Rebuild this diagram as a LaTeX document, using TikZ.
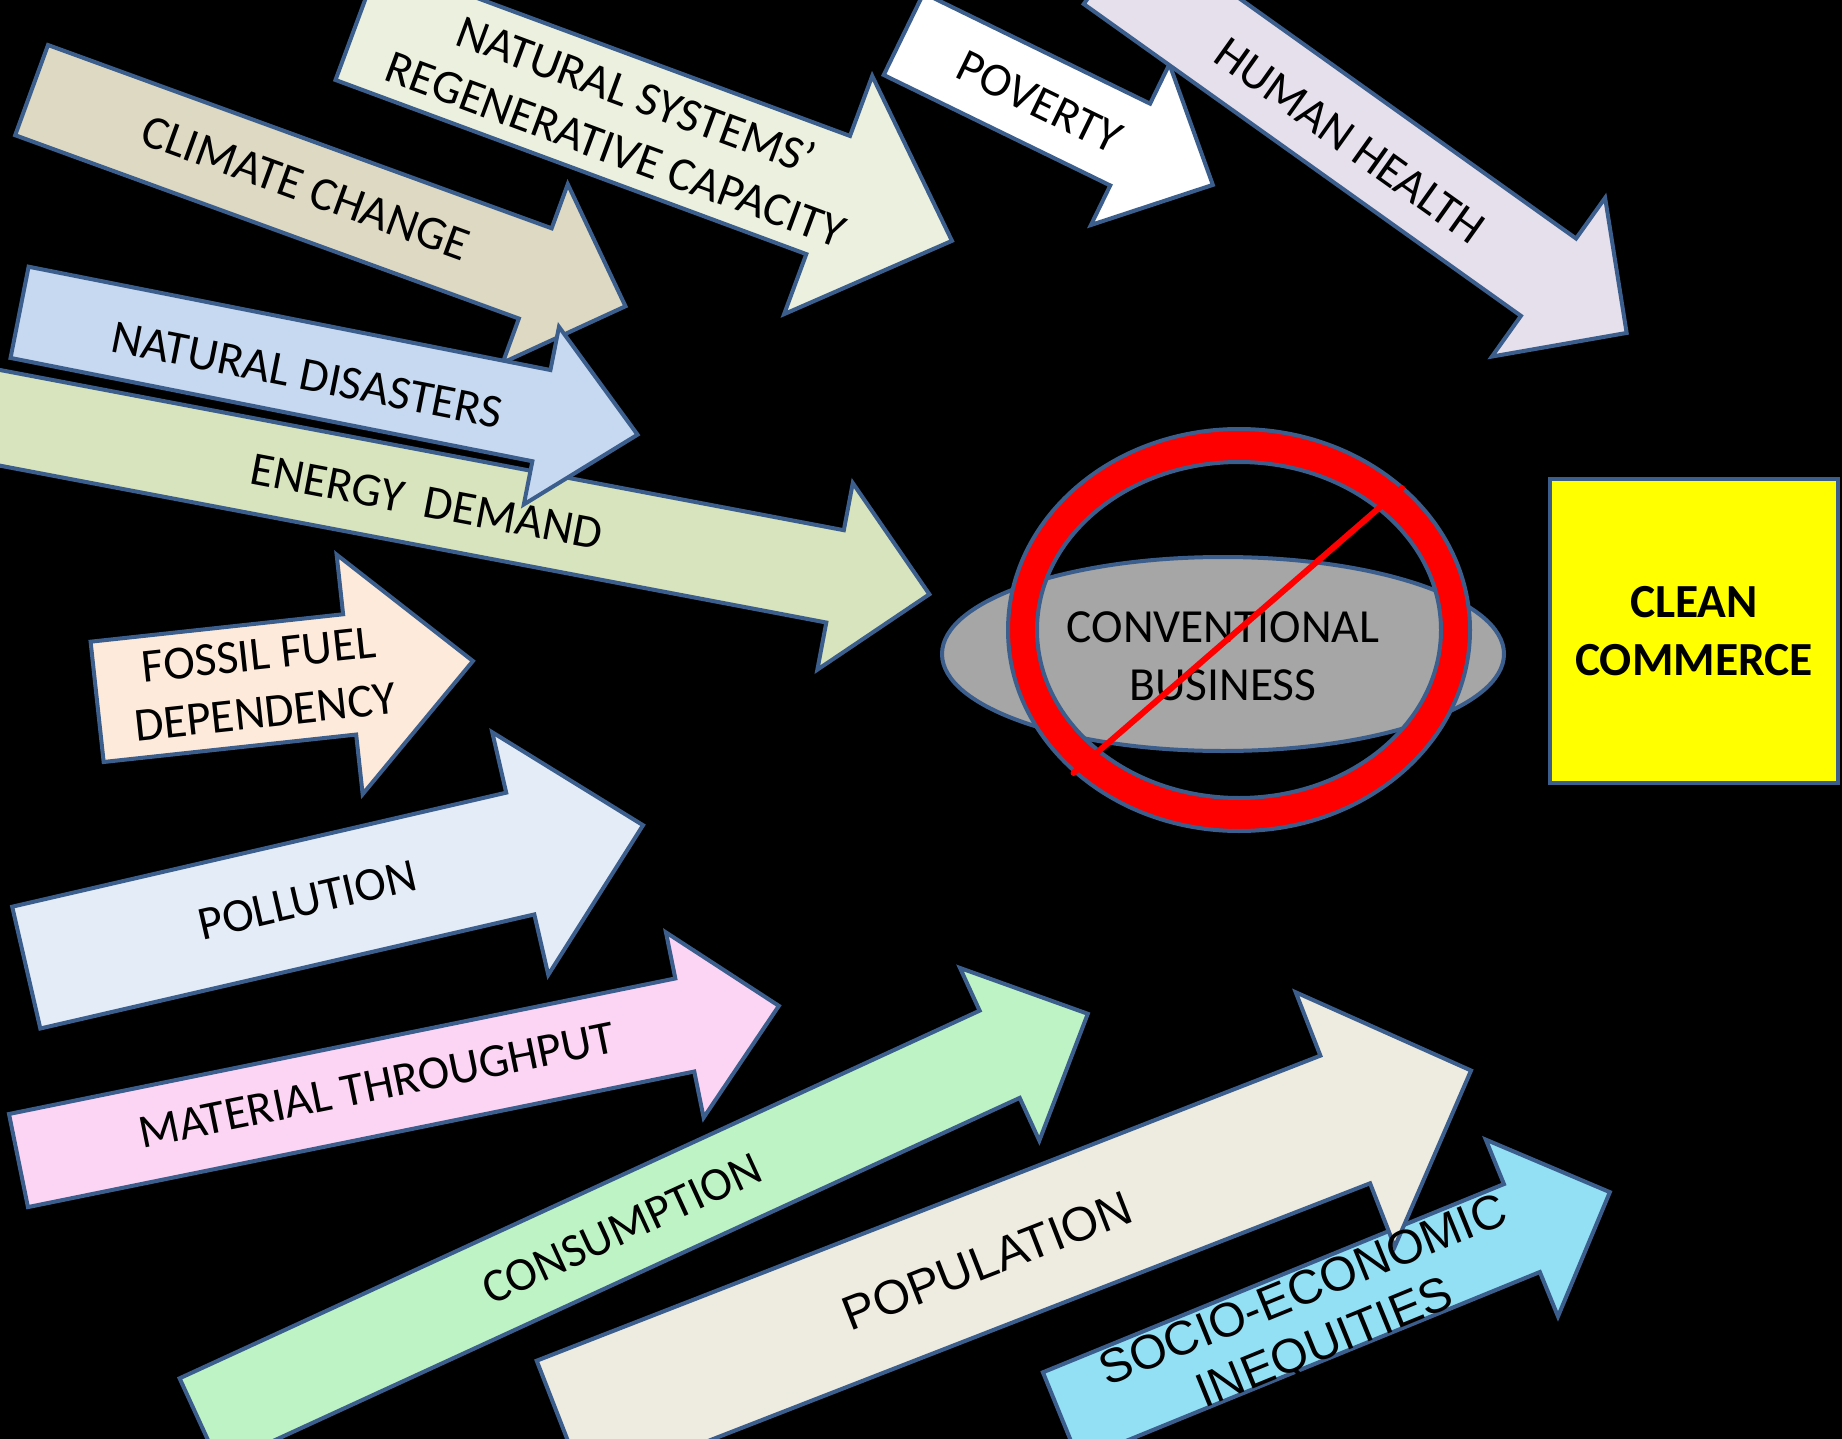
\documentclass[tikz,border=0pt]{standalone}
\usepackage{fontspec}
\setmainfont{Carlito}
\newfontfamily\arialfont{Liberation Sans}
\definecolor{outl}{HTML}{3B5E8C}
\definecolor{cclimate}{HTML}{DDD9C3}
\definecolor{cnatsys}{HTML}{EBF1DE}
\definecolor{cpoverty}{HTML}{FFFFFF}
\definecolor{chealth}{HTML}{E5E0EC}
\definecolor{cdisaster}{HTML}{C6D9F1}
\definecolor{cenergy}{HTML}{D7E4BD}
\definecolor{cfossil}{HTML}{FDEADA}
\definecolor{cpollution}{HTML}{E4ECF7}
\definecolor{cmaterial}{HTML}{FCD5F5}
\definecolor{cconsum}{HTML}{BEF3C5}
\definecolor{cpopul}{HTML}{EEECE1}
\definecolor{csocio}{HTML}{93E0F5}
\definecolor{cgrey}{HTML}{A6A6A6}
\definecolor{cred}{HTML}{FF0000}
\definecolor{cyellow}{HTML}{FFFF00}
\tikzset{
  arrowshape/.style={draw=outl, line width=4pt, line join=miter},
  lbl/.style={text=black, font=\fontsize{47.5}{58}\selectfont, align=center, inner sep=0pt, transform shape},
  albl/.style={text=black, font=\arialfont\fontsize{48}{57}\selectfont, align=center, inner sep=0pt, transform shape},
  pclimate/.style={shift={(48,45)}, rotate=-20},
  pnatsys/.style={shift={(379.2,-38.2)}, rotate=-20.3},
  ppoverty/.style={shift={(923.6,-6.8)}, rotate=-26},
  phealth/.style={shift={(1138.9,-73.3)}, rotate=-35.5},
  pdisaster/.style={shift={(28.6,266.7)}, rotate=-11.2},
  penergy/.style={shift={(-60,358.6)}, rotate=-10.75},
  pfossil/.style={shift={(90.6,641.7)}, rotate=6.2},
  ppollution/.style={shift={(12.2,906.7)}, rotate=13},
  pmaterial/.style={shift={(9,1114)}, rotate=11.5},
  pconsum/.style={shift={(179.6,1378.3)}, rotate=24.68},
  ppopul/.style={shift={(536.7,1360.7)}, rotate=21.27},
  psocio/.style={shift={(1042.9,1372.3)}, rotate=22.21}
}
% #1 options, #2 total length, #3 shaft width, #4 head length, #5 head overhang
\newcommand{\myarrowshape}[5]{\draw[arrowshape,#1] (0,0) -- ({#2-#4},0) -- ({#2-#4},{-#5}) -- (#2,{#3/2}) -- ({#2-#4},{#3+#5}) -- ({#2-#4},#3) -- (0,#3) -- cycle;}
\begin{document}
\begin{tikzpicture}[x=1pt,y=-1pt]
\useasboundingbox (0,0) rectangle (1842,1439);
\clip (0,0) rectangle (1842,1439);
\fill[black] (0,0) rectangle (1842,1439);
% arrow shapes
\begin{scope}[pclimate]\myarrowshape{fill=cclimate}{632}{96}{96}{47}\end{scope}
\begin{scope}[pnatsys]\myarrowshape{fill=cnatsys}{634}{126}{132}{64}\end{scope}
\begin{scope}[ppoverty]\myarrowshape{fill=cpoverty}{344}{91}{92}{44}\end{scope}
\begin{scope}[phealth]\myarrowshape{fill=chealth}{633}{95}{96}{50}\end{scope}
\begin{scope}[penergy]\myarrowshape{fill=cenergy}{1016}{94}{96}{48}\end{scope}
\begin{scope}[pdisaster]\myarrowshape{fill=cdisaster}{630}{93}{98}{44}\end{scope}
\begin{scope}[pfossil]\myarrowshape{fill=cfossil}{378}{121}{124}{60}\end{scope}
\begin{scope}[ppollution]\myarrowshape{fill=cpollution}{633}{125}{126}{62}\end{scope}
\begin{scope}[pmaterial]\myarrowshape{fill=cmaterial}{776}{95}{96}{47}\end{scope}
\begin{scope}[pconsum]\myarrowshape{fill=cconsum}{977.5}{96}{97}{47}\end{scope}
\begin{scope}[psocio]\myarrowshape{fill=csocio}{593}{95}{95}{48}\end{scope}
\begin{scope}[ppopul]\myarrowshape{fill=cpopul}{976}{137}{135}{68}\end{scope}
% conventional business
\draw[fill=cgrey, draw=outl, line width=4pt] (1223,654) ellipse [x radius=281, y radius=97];
\path[fill=cred, draw=outl, line width=4pt, even odd rule]
  (1239,630) ellipse [x radius=231, y radius=201]
  (1239,630) ellipse [x radius=202, y radius=168];
\node[draw=outl, fill=cyellow, line width=4pt, minimum width=288pt, minimum height=304pt,
      font=\bfseries\fontsize{47.5}{58}\selectfont, align=center] (clean) at (1694,631) {CLEAN\\COMMERCE};
% labels
\begin{scope}[pclimate]\node[lbl] (tclimate) at (291,46) {CLIMATE CHANGE};\end{scope}
\begin{scope}[pnatsys]\node[lbl] (tnatsys) at (287,64) {NATURAL SYSTEMS’\\REGENERATIVE CAPACITY};\end{scope}
\begin{scope}[ppoverty]\node[lbl] (tpoverty) at (152,47) {POVERTY};\end{scope}
\begin{scope}[phealth]\node[lbl] (thealth) at (296,52) {HUMAN HEALTH};\end{scope}
\begin{scope}[pdisaster]\node[lbl] (tdisaster) at (294,52) {NATURAL DISASTERS};\end{scope}
\begin{scope}[penergy]\node[lbl] (tenergy) at (505,50) {ENERGY~~DEMAND};\end{scope}
\begin{scope}[pfossil]\node[lbl] (tfossil) at (166,60) {FOSSIL FUEL\\DEPENDENCY};\end{scope}
\begin{scope}[ppollution]\node[lbl] (tpollution) at (289,60) {POLLUTION};\end{scope}
\begin{scope}[pmaterial]\node[lbl] (tmaterial) at (366,45) {MATERIAL THROUGHPUT};\end{scope}
\begin{scope}[pconsum]\node[lbl] (tconsum) at (464,49) {CONSUMPTION};\end{scope}
\begin{scope}[ppopul]\node[albl] (tpopul) at (456,70) {POPULATION};\end{scope}
\begin{scope}[psocio]\node[albl] (tsocio) at (272,54) {SOCIO-ECONOMIC\\INEQUITIES};\end{scope}
\node[lbl] (conv) at (1223,656) {CONVENTIONAL\\BUSINESS};
% slash
\coordinate (s1) at (1402,488);
\coordinate (s2) at (1073.5,773);
\draw[cred, line width=6pt, line cap=round] (s1) -- (s2);
\end{tikzpicture}
\end{document}
